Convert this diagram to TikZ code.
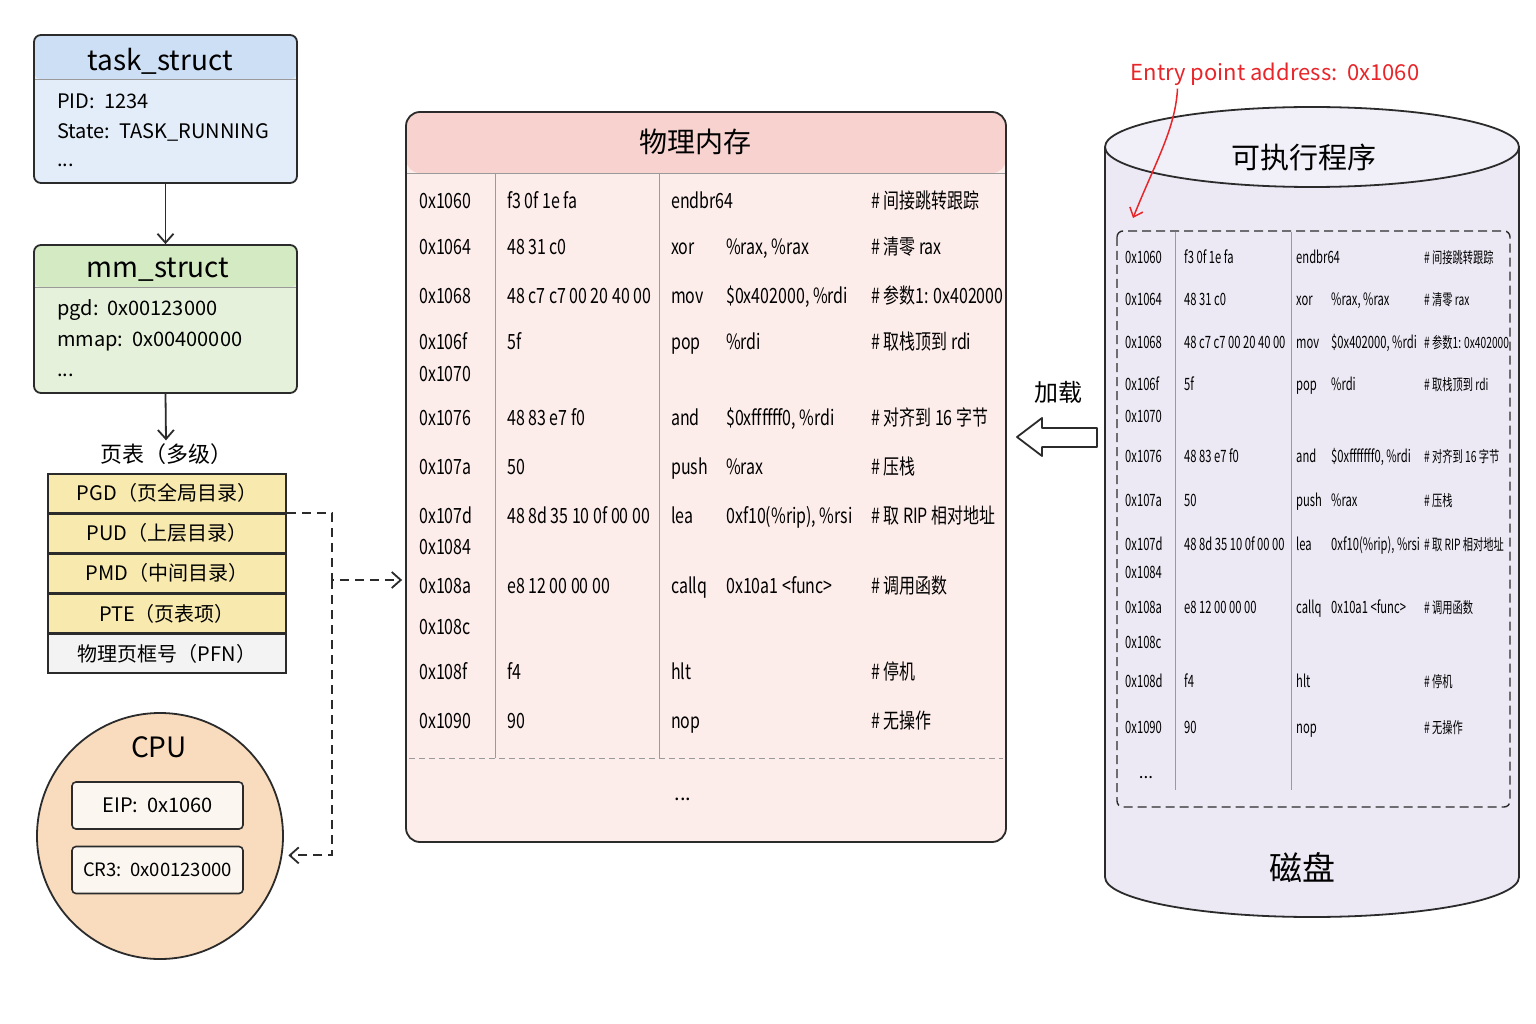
\documentclass[tikz,border=0pt]{standalone}
\usepackage{fontspec}
\setmainfont{Noto Sans CJK SC}
\newfontfamily\memfont[FakeStretch=0.76]{Noto Sans CJK SC}
\newfontfamily\dskfont[FakeStretch=0.66]{Noto Sans CJK SC}
\usetikzlibrary{arrows.meta,calc}
\newcommand\fsz[1]{\fontsize{#1pt}{#1pt}\selectfont}
\definecolor{ink}{HTML}{2B2B2B}
\definecolor{thead}{HTML}{CDDFF4}
\definecolor{tbody}{HTML}{E3EDF9}
\definecolor{mhead}{HTML}{D3EAC2}
\definecolor{mbody}{HTML}{E5F1DA}
\definecolor{pty}{HTML}{F8E9AE}
\definecolor{pfn}{HTML}{F3F3F3}
\definecolor{cpuc}{HTML}{F9DCBE}
\definecolor{regc}{HTML}{FBF6F0}
\definecolor{memhd}{HTML}{F8D2CF}
\definecolor{membd}{HTML}{FCECEA}
\definecolor{dskc}{HTML}{ECE9F4}
\definecolor{dsktop}{HTML}{F1EFF7}
\definecolor{redc}{HTML}{E8262A}
\definecolor{gridc}{HTML}{9A9A9A}
\newcommand\memrow[7]{%
\node[mt] (ma#1) at (419,#2) {#3};
\if\relax\detokenize{#4}\relax\else\node[mt] (mb#1) at (507,#2) {#4};\fi
\if\relax\detokenize{#5}\relax\else\node[mt] (mn#1) at (671,#2) {#5};\fi
\if\relax\detokenize{#6}\relax\else\node[mt] (mo#1) at (726,#2) {#6};\fi
\if\relax\detokenize{#7}\relax\else\node[mt] (mk#1) at (871,#2) {#7};\fi}
\newcommand\dskrow[7]{%
\node[dt] (da#1) at (1125,#2) {#3};
\if\relax\detokenize{#4}\relax\else\node[dt] (db#1) at (1184,#2) {#4};\fi
\if\relax\detokenize{#5}\relax\else\node[dt] (dn#1) at (1296,#2) {#5};\fi
\if\relax\detokenize{#6}\relax\else\node[dt] (do#1) at (1331,#2) {#6};\fi
\if\relax\detokenize{#7}\relax\else\node[dc] (dk#1) at (1424,#2) {#7};\fi}
\begin{document}
\begin{tikzpicture}[x=1pt,y=-1pt,
  box/.style={draw=ink, line width=1.8pt, rounded corners=7pt, inner sep=0pt},
  body/.style={inner sep=0pt, anchor=base west, yshift=-6.7pt, font=\fsz{20}},
  title/.style={inner sep=0pt, anchor=base, yshift=-9pt, font=\fsz{28}},
  cjkt/.style={inner sep=0pt, anchor=base, yshift=-0.38*#1pt, font=\fsz{#1}},
  mt/.style={inner sep=0pt, anchor=base west, yshift=-7pt, font=\memfont\fsz{21}},
  dt/.style={inner sep=0pt, anchor=base west, yshift=-5.7pt, font=\dskfont\fsz{17}},
  dc/.style={inner sep=0pt, anchor=base west, yshift=-5.4pt, font=\dskfont\fsz{15.5}},
  tip/.style={-{Straight Barb[length=9pt,width=16pt]}},
  arr/.style={draw=ink, line width=1.8pt, tip},
  dconn/.style={draw=ink, line width=1.8pt, dash pattern=on 9pt off 6pt, tip},
  ptrow/.style={draw=ink, line width=1.6pt, minimum width=238pt, minimum height=38.6pt, inner sep=0pt, font=\fsz{20}, text height=16.4pt, text depth=1.6pt},
  reg/.style={draw=ink, line width=1.6pt, rounded corners=4pt, fill=regc, minimum width=171pt, minimum height=47pt, inner sep=0pt}
]
\useasboundingbox[fill=white] (0,0) rectangle (1536,1024);

% ---------------- task_struct
\node[box, fill=tbody, minimum width=263pt, minimum height=148pt,
  path picture={\fill[thead] (path picture bounding box.north west) rectangle ([yshift=-44pt]path picture bounding box.north east);
  \draw[gridc, line width=0.8pt] ([yshift=-44pt]path picture bounding box.north west) -- ([yshift=-44pt]path picture bounding box.north east);}]
  (task) at (165.5,109) {};
\node[title] (taskt) at (160,62) {task\_struct};
\node[body] (task1) at (57,102) {PID:\ \ 1234};
\node[body] (task2) at (57,132) {State:\ \ TASK\_RUNNING};
\node[body] (task3) at (57,160) {...};

% ---------------- mm_struct
\node[box, fill=mbody, minimum width=263pt, minimum height=148pt,
  path picture={\fill[mhead] (path picture bounding box.north west) rectangle ([yshift=-42pt]path picture bounding box.north east);
  \draw[gridc, line width=0.8pt] ([yshift=-42pt]path picture bounding box.north west) -- ([yshift=-42pt]path picture bounding box.north east);}]
  (mm) at (165.5,319) {};
\node[title] (mmt) at (158,269) {mm\_struct};
\node[body] (mm1) at (57,309) {pgd:\ \ 0x00123000};
\node[body] (mm2) at (57,340) {mmap:\ \ 0x00400000};
\node[body] (mm3) at (57,370) {...};

\draw[arr] (task.south) -- (mm.north);

% ---------------- page table
\node[cjkt=22] (ptl) at (166,454) {页表（多级）};
\draw[arr] (mm.south) -- ([yshift=3pt]ptl.north);
\node[ptrow, fill=pty] (pgd) at (167,493) {PGD（页全局目录）};
\node[ptrow, fill=pty, anchor=north] (pud) at (pgd.south) {PUD（上层目录）};
\node[ptrow, fill=pty, anchor=north] (pmd) at (pud.south) {PMD（中间目录）};
\node[ptrow, fill=pty, anchor=north] (pte) at (pmd.south) {PTE（页表项）};
\node[ptrow, fill=pfn, anchor=north] (pfnr) at (pte.south) {物理页框号（PFN）};

% ---------------- CPU
\node[circle, draw=ink, line width=1.8pt, fill=cpuc, minimum size=246pt, inner sep=0pt] (cpu) at (160,836) {};
\node[title] (cput) at (159,748) {CPU};
\node[reg, font=\fsz{20}, text height=14pt, text depth=0.6pt] (eip) at (157.5,805.5) {EIP:\ \ 0x1060};
\node[reg, font=\fsz{18.5}, text height=13pt, text depth=0.6pt] (cr3) at (157.5,870) {CR3:\ \ 0x00123000};

% ---------------- physical memory
\node[box, rounded corners=14pt, fill=membd, minimum width=600pt, minimum height=730pt,
  path picture={\fill[memhd] (path picture bounding box.north west) rectangle ([yshift=-61pt]path picture bounding box.north east);
  \draw[gridc, line width=0.9pt] ([yshift=-61pt]path picture bounding box.north west) -- ([yshift=-61pt]path picture bounding box.north east);}]
  (mem) at (706,477) {};
\node[cjkt=28] (memt) at (695,142) {物理内存};
\draw[gridc, line width=0.9pt] (495,174) -- (495,758) (659,174) -- (659,758);
\draw[gridc, line width=0.9pt, dash pattern=on 6pt off 4pt] (409,758) -- (1003,758);
\memrow{1}{202}{0x1060}{f3 0f 1e fa}{endbr64}{}{\# 间接跳转跟踪}
\memrow{2}{248}{0x1064}{48 31 c0}{xor}{\%rax, \%rax}{\# 清零 rax}
\memrow{3}{296}{0x1068}{48 c7 c7 00 20 40 00}{mov}{\$0x402000, \%rdi}{\# 参数1: 0x402000}
\memrow{4}{342}{0x106f}{5f}{pop}{\%rdi}{\# 取栈顶到 rdi}
\memrow{5}{374}{0x1070}{}{}{}{}
\memrow{6}{418}{0x1076}{48 83 e7 f0}{and}{\$0xffffff0, \%rdi}{\# 对齐到 16 字节}
\memrow{7}{467}{0x107a}{50}{push}{\%rax}{\# 压栈}
\memrow{8}{516}{0x107d}{48 8d 35 10 0f 00 00}{lea}{0xf10(\%rip), \%rsi}{\# 取 RIP 相对地址}
\memrow{9}{547}{0x1084}{}{}{}{}
\memrow{10}{586}{0x108a}{e8 12 00 00 00}{callq}{0x10a1 <func>}{\# 调用函数}
\memrow{11}{627}{0x108c}{}{}{}{}
\memrow{12}{672}{0x108f}{f4}{hlt}{}{\# 停机}
\memrow{13}{721}{0x1090}{90}{nop}{}{\# 无操作}
\node[inner sep=0pt, anchor=base, font=\fsz{20}] (memdots) at (683,800) {...};

% ---------------- dashed connectors
\coordinate (j) at (332,580);
\draw[dconn] (pgd.south east) -| (j) -- ([xshift=-3pt]mem.west |- j);
\draw[dconn, shorten >=6pt] (j) |- (cpu.-9);

% ---------------- disk
\fill[dskc] (1105,147) -- (1105,877) arc[start angle=180, end angle=360, x radius=207pt, y radius=40pt]
  -- (1519,147) arc[start angle=0, end angle=180, x radius=207pt, y radius=40pt] -- cycle;
\fill[dsktop] (1312,147) ellipse[x radius=207pt, y radius=40pt];
\draw[ink, line width=1.8pt] (1105,147) -- (1105,877) arc[start angle=180, end angle=360, x radius=207pt, y radius=40pt] -- (1519,147);
\draw[ink, line width=1.8pt] (1312,147) ellipse[x radius=207pt, y radius=40pt];
\node[cjkt=29] (dskt) at (1304,157) {可执行程序};
\node[cjkt=33] (dskb) at (1302,868) {磁盘};
\draw[ink, line width=1.4pt, dash pattern=on 9pt off 5pt, rounded corners=6pt] (1117,231) rectangle (1510,807);
\draw[gridc, line width=0.9pt] (1175,232) -- (1175,790) (1291,232) -- (1291,790);
\dskrow{1}{258}{0x1060}{f3 0f 1e fa}{endbr64}{}{\# 间接跳转跟踪}
\dskrow{2}{300}{0x1064}{48 31 c0}{xor}{\%rax, \%rax}{\# 清零 rax}
\dskrow{3}{343}{0x1068}{48 c7 c7 00 20 40 00}{mov}{\$0x402000, \%rdi}{\# 参数1: 0x402000}
\dskrow{4}{385}{0x106f}{5f}{pop}{\%rdi}{\# 取栈顶到 rdi}
\dskrow{5}{417}{0x1070}{}{}{}{}
\dskrow{6}{457}{0x1076}{48 83 e7 f0}{and}{\$0xfffffff0, \%rdi}{\# 对齐到 16 字节}
\dskrow{7}{501}{0x107a}{50}{push}{\%rax}{\# 压栈}
\dskrow{8}{545}{0x107d}{48 8d 35 10 0f 00 00}{lea}{0xf10(\%rip), \%rsi}{\# 取 RIP 相对地址}
\dskrow{9}{573}{0x1084}{}{}{}{}
\dskrow{10}{608}{0x108a}{e8 12 00 00 00}{callq}{0x10a1 <func>}{\# 调用函数}
\dskrow{11}{643}{0x108c}{}{}{}{}
\dskrow{12}{682}{0x108d}{f4}{hlt}{}{\# 停机}
\dskrow{13}{728}{0x1090}{90}{nop}{}{\# 无操作}
\node[inner sep=0pt, anchor=base, font=\fsz{17}] (dskdots) at (1146,778) {...};

% ---------------- load arrow
\node[cjkt=24] (load) at (1058,392) {加载};
\draw[ink, line width=1.8pt, fill=white, line join=round]
  (1097,428) -- (1042,428) -- (1042,418) -- (1017,437) -- (1042,456) -- (1042,447) -- (1097,447) -- cycle;

% ---------------- entry point
\node[inner sep=0pt, anchor=base, yshift=-7.3pt, font=\fsz{22}, text=redc] (entry) at (1275,73) {Entry point address:\ \ 0x1060};
\coordinate (ept) at (1133,218);
\draw[redc, line width=1.5pt, -{Straight Barb[length=8pt,width=14pt]}]
  ([xshift=47pt,yshift=-3pt]entry.south west) .. controls +(-2,40) and +(22,-55) .. (ept);
\end{tikzpicture}
\end{document}
